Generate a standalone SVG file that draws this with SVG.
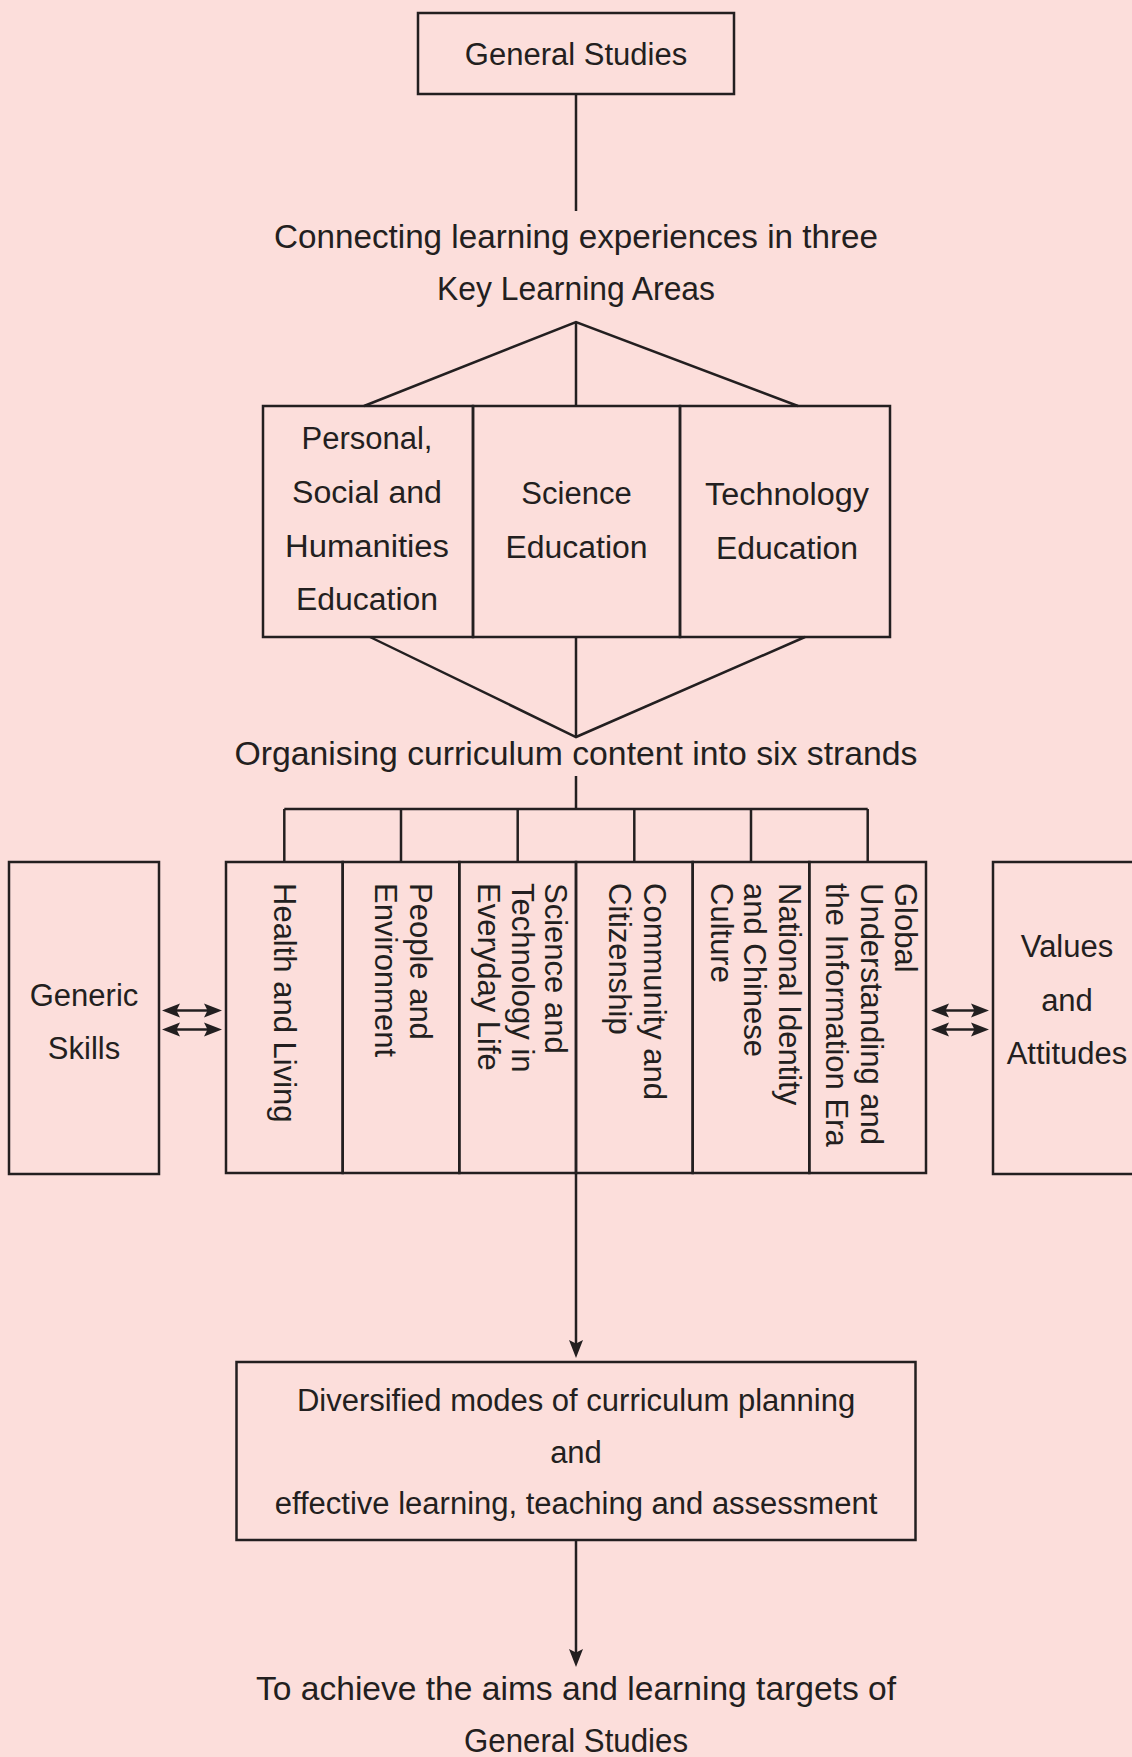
<svg xmlns="http://www.w3.org/2000/svg" width="1132" height="1757" viewBox="0 0 1132 1757">
<style>
.bx{fill:none;stroke:#231f20;stroke-width:2.5}
.ln{fill:none;stroke:#231f20;stroke-width:2.5}
.t{font-family:"Liberation Sans",Arial,sans-serif;font-size:31px;fill:#231f20;text-anchor:middle}
.L{font-size:33px}
.v{font-family:"Liberation Sans",Arial,sans-serif;font-size:31px;fill:#231f20;text-anchor:start}
</style>
<defs>
<marker id="ah" markerWidth="22" markerHeight="18" refX="13" refY="8" orient="auto-start-reverse" markerUnits="userSpaceOnUse">
<path d="M0,1 L18,8 L0,15 L3.5,8 Z" fill="#231f20"/>
</marker>
</defs>
<rect width="1132" height="1757" fill="#fcdedb"/>

<g id="connectors">
<line class="ln" x1="576" y1="94" x2="576" y2="211"/>
<polyline class="ln" points="364,406 576,322 798,406"/>
<line class="ln" x1="576" y1="322" x2="576" y2="406"/>
<polyline class="ln" points="370,637 576,737 805,637"/>
<line class="ln" x1="576" y1="637" x2="576" y2="737"/>
<line class="ln" x1="576" y1="776" x2="576" y2="809"/>
<line class="ln" x1="284.3" y1="809" x2="867.7" y2="809"/>
<line class="ln" x1="284.3" y1="809" x2="284.3" y2="862"/>
<line class="ln" x1="401" y1="809" x2="401" y2="862"/>
<line class="ln" x1="517.7" y1="809" x2="517.7" y2="862"/>
<line class="ln" x1="634.3" y1="809" x2="634.3" y2="862"/>
<line class="ln" x1="751" y1="809" x2="751" y2="862"/>
<line class="ln" x1="867.7" y1="809" x2="867.7" y2="862"/>
<line class="ln" x1="167" y1="1010.5" x2="217" y2="1010.5" marker-start="url(#ah)" marker-end="url(#ah)"/>
<line class="ln" x1="167" y1="1029.5" x2="217" y2="1029.5" marker-start="url(#ah)" marker-end="url(#ah)"/>
<line class="ln" x1="936" y1="1010.5" x2="984" y2="1010.5" marker-start="url(#ah)" marker-end="url(#ah)"/>
<line class="ln" x1="936" y1="1029.5" x2="984" y2="1029.5" marker-start="url(#ah)" marker-end="url(#ah)"/>
<line class="ln" x1="576" y1="1173" x2="576" y2="1353" marker-end="url(#ah)"/>
<line class="ln" x1="576" y1="1540" x2="576" y2="1662" marker-end="url(#ah)"/>
</g>

<g id="general-studies">
<rect class="bx" x="418" y="13" width="316" height="81"/>
<text class="t" x="576" y="65">General Studies</text>
</g>

<g id="connecting-label">
<text class="t L" x="576" y="248" textLength="604" lengthAdjust="spacingAndGlyphs">Connecting learning experiences in three</text>
<text class="t L" x="576" y="300" textLength="278" lengthAdjust="spacingAndGlyphs">Key Learning Areas</text>
</g>

<g id="pshe">
<rect class="bx" x="263" y="406" width="210" height="231"/>
<text class="t" x="367" y="449">Personal,</text>
<text class="t" x="367" y="503" textLength="150" lengthAdjust="spacingAndGlyphs">Social and</text>
<text class="t" x="367" y="557" textLength="164" lengthAdjust="spacingAndGlyphs">Humanities</text>
<text class="t" x="367" y="610" textLength="142" lengthAdjust="spacingAndGlyphs">Education</text>
</g>

<g id="science-education">
<rect class="bx" x="473" y="406" width="207" height="231"/>
<text class="t" x="576.5" y="504">Science</text>
<text class="t" x="576.5" y="558" textLength="142" lengthAdjust="spacingAndGlyphs">Education</text>
</g>

<g id="technology-education">
<rect class="bx" x="680" y="406" width="210" height="231"/>
<text class="t" x="787" y="505" textLength="164" lengthAdjust="spacingAndGlyphs">Technology</text>
<text class="t" x="787" y="559" textLength="142" lengthAdjust="spacingAndGlyphs">Education</text>
</g>

<g id="organising-label">
<text class="t L" x="576" y="765" textLength="683" lengthAdjust="spacingAndGlyphs">Organising curriculum content into six strands</text>
</g>

<g id="generic-skills">
<rect class="bx" x="9" y="862" width="150" height="312"/>
<text class="t" x="84" y="1006">Generic</text>
<text class="t" x="84" y="1059">Skills</text>
</g>

<g id="strand-health">
<rect class="bx" x="226" y="862" width="116.7" height="311"/>
<text class="v" transform="translate(274,883) rotate(90)">Health and Living</text>
</g>

<g id="strand-people">
<rect class="bx" x="342.7" y="862" width="116.6" height="311"/>
<text class="v" transform="translate(410,883) rotate(90)"><tspan x="0" y="0">People and</tspan><tspan x="0" dy="35">Environment</tspan></text>
</g>

<g id="strand-science">
<rect class="bx" x="459.3" y="862" width="116.7" height="311"/>
<text class="v" transform="translate(545,883) rotate(90)"><tspan x="0" y="0">Science and</tspan><tspan x="0" dy="33">Technology in</tspan><tspan x="0" dy="34">Everyday Life</tspan></text>
</g>

<g id="strand-community">
<rect class="bx" x="576" y="862" width="116.7" height="311"/>
<text class="v" transform="translate(644,883) rotate(90)"><tspan x="0" y="0">Community and</tspan><tspan x="0" dy="35">Citizenship</tspan></text>
</g>

<g id="strand-national">
<rect class="bx" x="692.7" y="862" width="116.6" height="311"/>
<text class="v" transform="translate(779,883) rotate(90)"><tspan x="0" y="0">National Identity</tspan><tspan x="0" dy="35">and Chinese</tspan><tspan x="0" dy="33">Culture</tspan></text>
</g>

<g id="strand-global">
<rect class="bx" x="809.3" y="862" width="116.7" height="311"/>
<text class="v" transform="translate(895,883) rotate(90)"><tspan x="0" y="0">Global</tspan><tspan x="0" dy="34">Understanding and</tspan><tspan x="0" dy="35">the Information Era</tspan></text>
</g>

<g id="values-attitudes">
<rect class="bx" x="993" y="862" width="150" height="312"/>
<text class="t" x="1067" y="957">Values</text>
<text class="t" x="1067" y="1011">and</text>
<text class="t" x="1067" y="1064">Attitudes</text>
</g>

<g id="diversified-modes">
<rect class="bx" x="236.5" y="1362" width="679" height="178"/>
<text class="t" x="576" y="1411">Diversified modes of curriculum planning</text>
<text class="t" x="576" y="1463">and</text>
<text class="t" x="576" y="1514">effective learning, teaching and assessment</text>
</g>

<g id="aims-label">
<text class="t L" x="576" y="1700" textLength="640" lengthAdjust="spacingAndGlyphs">To achieve the aims and learning targets of</text>
<text class="t L" x="576" y="1752" textLength="224" lengthAdjust="spacingAndGlyphs">General Studies</text>
</g>
</svg>
